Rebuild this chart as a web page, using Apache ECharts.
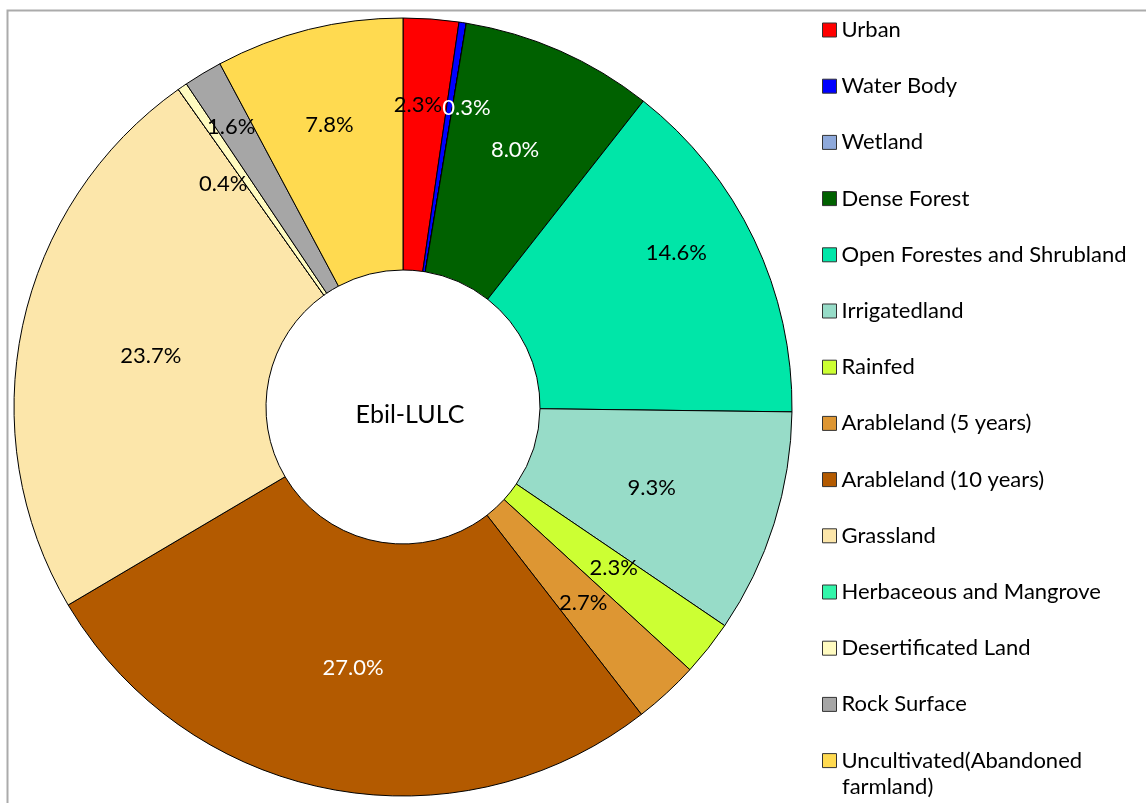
<!DOCTYPE html>
<html><head><meta charset="utf-8">
<script src="https://cdn.jsdelivr.net/npm/echarts@6/dist/echarts.min.js"></script>
<style>html,body{margin:0;padding:0;background:#fff}#c{width:1146px;height:803px}</style>
</head><body><div id="c"></div>
<script>
const categories = ["Urban","Water Body","Wetland","Dense Forest","Open Forestes and Shrubland","Irrigatedland","Rainfed","Arableland (5 years)","Arableland (10 years)","Grassland","Herbaceous and Mangrove","Desertificated Land","Rock Surface","Uncultivated(Abandoned farmland)"];
const values = [2.3,0.3,0,8.0,14.6,9.3,2.3,2.7,27.0,23.7,0,0.4,1.6,7.8];
const colors = ["#FF0000","#0000FF","#8EA9DB","#006100","#00E6A8","#97DCC8","#CCFF33","#DD9633","#B35A00","#FCE6AA","#33F5AA","#FFFBC0","#A6A6A6","#FFDA50"];
const labelColors = ["#000","#fff","#000","#fff","#000","#000","#000","#000","#fff","#000","#000","#000","#000","#000"];
const centerTitle = "Ebil-LULC";
// labels that Excel placed further out on the ring, with small manual nudges (label style only)
const outerLabelNudge = {
  "Urban":[-7,0], "Water Body":[17,0], "Dense Forest":[-10,20], "Open Forestes and Shrubland":[0,-23],
  "Desertificated Land":[-8,26], "Rock Surface":[-16,-20], "Uncultivated(Abandoned farmland)":[0,12]
};
const innerLabelNudge = {"Grassland":[8,4], "Irrigatedland":[-5,1], "Rainfed":[2,-4]};

const FONT = "Lato";
const chart = echarts.init(document.getElementById('c'), null, {renderer:'canvas'});
const labelBase = {position:'inside', fontFamily:FONT, fontSize:22, formatter: p => p.value.toFixed(1)+'%'};
chart.setOption({
  animation:false,
  backgroundColor:'#fff',
  graphic:[
    {type:'rect', shape:{x:7.5,y:10.5,width:1200,height:900}, style:{fill:'none',stroke:'#ababab',lineWidth:2}, z:-10},
    {type:'text', left:842, top:776, style:{text:'farmland)', font:'22px '+FONT, fill:'#000'}}
  ],
  title:{text:centerTitle, left:405, top:410, textAlign:'center', textVerticalAlign:'middle',
    textStyle:{fontFamily:FONT,fontSize:25,fontWeight:'normal',color:'#000'}},
  legend:{
    orient:'vertical', left:822, top:18, padding:0, itemWidth:14, itemHeight:14, itemGap:32.2,
    icon:'rect', selectedMode:false,
    itemStyle:{borderColor:'#333',borderWidth:1},
    textStyle:{fontFamily:FONT,fontSize:22,color:'#000',lineHeight:24},
    formatter: n => n === "Uncultivated(Abandoned farmland)" ? "Uncultivated(Abandoned" : n,
    data: categories
  },
  series:[{
    type:'pie', center:[403,407], radius:[137,389], startAngle:90, clockwise:true,
    avoidLabelOverlap:false, minShowLabelAngle:0,
    itemStyle:{borderColor:'#000',borderWidth:1},
    label:labelBase,
    labelLayout:{hideOverlap:false},
    labelLine:{show:false},
    emphasis:{disabled:true},
    data: categories.map((c,i)=>({name:c, value:values[i],
      itemStyle:{color:colors[i]},
      label:{show: values[i]>0 && !(c in outerLabelNudge), color:labelColors[i], offset: innerLabelNudge[c] || [0,0]}}))
  },{
    type:'pie', center:[403,407], radius:[211,389], startAngle:90, clockwise:true,
    avoidLabelOverlap:false, minShowLabelAngle:0, silent:true, z:5,
    itemStyle:{color:'rgba(0,0,0,0)',borderWidth:0},
    label:labelBase,
    labelLayout:{hideOverlap:false},
    labelLine:{show:false},
    emphasis:{disabled:true},
    data: categories.map((c,i)=>({name:c, value:values[i],
      label:{show: values[i]>0 && (c in outerLabelNudge), color:labelColors[i], offset: outerLabelNudge[c] || [0,0]}}))
  }]
});
</script></body></html>
